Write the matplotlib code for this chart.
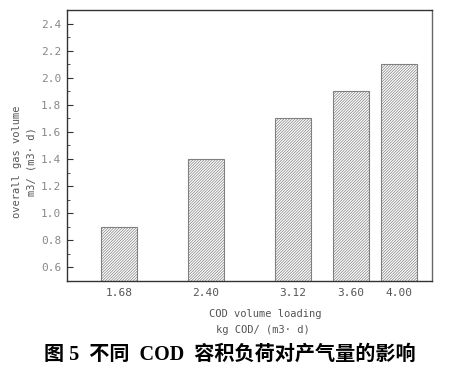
import matplotlib.pyplot as plt
from matplotlib.ticker import MultipleLocator

# COD volume loading and gas volume
loading = [1.68, 2.40, 3.12, 3.60, 4.00]
gas_volume = [0.90, 1.40, 1.70, 1.90, 2.10]
tick_labels = ['1.68', '2.40', '3.12', '3.60', '4.00']

plt.rcParams['hatch.linewidth'] = 0.5
plt.rcParams['hatch.color'] = '#808080'

fig = plt.figure(figsize=(4.58, 3.69), dpi=100)
ax = fig.add_axes([0.1463, 0.2385, 0.7969, 0.7344])

ax.bar(loading, gas_volume, width=0.30, bottom=0, color='white',
       edgecolor='#808080', linewidth=0.8, hatch='////////////')

ax.set_xlim(1.25, 4.27)
ax.set_ylim(0.5, 2.5)
ax.set_xticks(loading)
ax.set_xticklabels(tick_labels)
ax.set_yticks([0.6, 0.8, 1.0, 1.2, 1.4, 1.6, 1.8, 2.0, 2.2, 2.4])
ax.yaxis.set_minor_locator(MultipleLocator(0.1))

mono = 'DejaVu Sans Mono'
ax.tick_params(axis='y', which='major', direction='in', length=4, width=0.8,
               color='#333333', labelsize=8, labelcolor='#888888', pad=4)
ax.tick_params(axis='y', which='minor', direction='in', length=2, width=0.6,
               color='#333333')
ax.tick_params(axis='x', length=0, labelsize=8, labelcolor='#555555', pad=5)
for lab in ax.get_xticklabels() + ax.get_yticklabels():
    lab.set_family(mono)

for side in ['left', 'bottom', 'top']:
    ax.spines[side].set_color('#333333')
    ax.spines[side].set_linewidth(1.0)
ax.spines['right'].set_color('#666666')
ax.spines['right'].set_linewidth(1.0)

# axis titles
fig.text(0.037, 0.563, 'overall gas volume', rotation=90, ha='center',
         va='center', family=mono, fontsize=7.5, color='#555555')
fig.text(0.068, 0.563, 'm3/ (m3· d)', rotation=90, ha='center',
         va='center', family=mono, fontsize=7.5, color='#555555')
fig.text(0.580, 0.149, 'COD volume loading', ha='center', va='center',
         family=mono, fontsize=7.5, color='#555555')
fig.text(0.575, 0.106, 'kg COD/ (m3· d)', ha='center', va='center',
         family=mono, fontsize=7.5, color='#555555')

# caption
fig.text(0.502, 0.038, '图 5  不同  COD  容积负荷对产气量的影响', ha='center',
         va='center', fontsize=14.5, fontweight='bold', color='black',
         family=['Liberation Serif', 'Noto Sans CJK SC'])

fig.savefig('out.png', dpi=100)
